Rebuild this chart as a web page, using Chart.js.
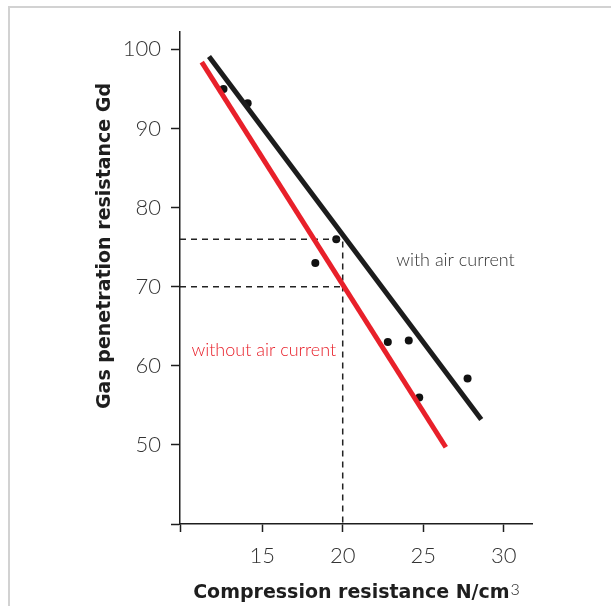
<!DOCTYPE html>
<html>
<head>
<meta charset="utf-8">
<script src="https://cdn.jsdelivr.net/npm/chart.js@4.4.1/dist/chart.umd.min.js"></script>
<style>
  html, body { margin: 0; background: #fff; overflow: hidden; width: 611px; height: 606px; }
  #frame { position: absolute; left: 8px; top: 6px; width: 640px; height: 640px;
           border-top: 2px solid #d2d2d2; border-left: 2px solid #d2d2d2; }
  #wrap { position: absolute; left: 0; top: 0; }
</style>
</head>
<body>
<div id="frame"></div>
<div id="wrap"><canvas id="chart" width="611" height="606"></canvas></div>
<script>
// measured points
const pointX = [12.6, 14.1, 18.3, 19.6, 22.8, 24.1, 24.75, 27.75];
const pointY = [95, 93.2, 73, 76, 63, 63.2, 56, 58.4];

// fitted lines (end points)
const withAirX = [11.7, 28.6];
const withAirY = [99.1, 53.2];
const withoutAirX = [11.25, 26.4];
const withoutAirY = [98.4, 49.7];

// dashed reading guides
const guide76X = [9.9, 20, 20];
const guide76Y = [76, 76, 40];
const guide70X = [9.9, 20];
const guide70Y = [70, 70];

const xTicks = [9.9, 15, 20, 25, 30];
const yTicks = [40, 50, 60, 70, 80, 90, 100];

const zip = (xs, ys) => xs.map((x, i) => ({ x: x, y: ys[i] }));

// labels drawn on the chart (data coords)
const textLabels = [
  { text: 'with air current', x: 27, y: 73.3, color: '#333' },
  { text: 'without air current', x: 15.1, y: 62, color: '#e8202a' }
];

const titlePlugin = {
  id: 'titles',
  afterDraw(chart) {
    const ctx = chart.ctx;
    const { x, y } = chart.scales;
    const area = chart.chartArea;
    ctx.save();
    // annotations
    ctx.font = '300 18px Lato';
    ctx.textAlign = 'center';
    ctx.textBaseline = 'middle';
    textLabels.forEach(l => {
      ctx.fillStyle = l.color;
      ctx.fillText(l.text, x.getPixelForValue(l.x), y.getPixelForValue(l.y));
    });
    // x title with superscript
    ctx.fillStyle = '#1e1e1e';
    ctx.textBaseline = 'alphabetic';
    ctx.textAlign = 'left';
    const main = 'Compression resistance N/cm';
    ctx.font = 'bold 19px "DejaVu Sans"';
    const w1 = ctx.measureText(main).width;
    ctx.font = '300 16px Lato';
    const w2 = ctx.measureText('3').width;
    const startX = (area.left + area.right) / 2 - (w1 + w2) / 2;
    ctx.font = 'bold 19px "DejaVu Sans"';
    ctx.fillText(main, startX, 598);
    ctx.font = '300 16px Lato';
    ctx.fillText('3', startX + w1 + 1, 595);
    // y title
    ctx.translate(105, 246);
    ctx.rotate(-Math.PI / 2);
    ctx.textAlign = 'center';
    ctx.textBaseline = 'middle';
    ctx.font = 'bold 19px "DejaVu Sans"';
    ctx.fillText('Gas penetration resistance Gd', 0, 0);
    ctx.restore();
  }
};

const axisColor = '#1e1e1e';

new Chart(document.getElementById('chart'), {
  type: 'scatter',
  data: {
    datasets: [
      {
        data: zip(withAirX, withAirY),
        showLine: true, borderColor: '#1c1c1c', borderWidth: 5,
        pointRadius: 0, borderCapStyle: 'butt'
      },
      {
        data: zip(withoutAirX, withoutAirY),
        showLine: true, borderColor: '#e8202a', borderWidth: 5,
        pointRadius: 0, borderCapStyle: 'butt'
      },
      {
        data: zip(guide76X, guide76Y),
        showLine: true, borderColor: '#222', borderWidth: 1.5,
        borderDash: [6, 5], pointRadius: 0
      },
      {
        data: zip(guide70X, guide70Y),
        showLine: true, borderColor: '#222', borderWidth: 1.5,
        borderDash: [6, 5], pointRadius: 0
      },
      {
        data: zip(pointX, pointY),
        pointRadius: 4, pointBackgroundColor: '#111', pointBorderWidth: 0
      }
    ]
  },
  options: {
    responsive: false,
    animation: false,
    events: [],
    layout: { padding: { top: 32, right: 79, left: 0, bottom: 0 } },
    plugins: { legend: { display: false }, tooltip: { enabled: false } },
    scales: {
      x: {
        type: 'linear', min: 9.9, max: 31.75,
        afterBuildTicks: s => { s.ticks = xTicks.map(v => ({ value: v })); },
        afterFit: s => { s.height = 82; },
        grid: { drawOnChartArea: false, tickLength: 8, color: axisColor, tickWidth: 1.5 },
        border: { color: axisColor, width: 1.5 },
        ticks: {
          padding: 11, color: '#333', font: { family: 'Lato', size: 22, weight: '300' },
          callback: v => (v < 10 ? '' : v)
        }
      },
      y: {
        type: 'linear', min: 40, max: 102.2,
        afterBuildTicks: s => { s.ticks = yTicks.map(v => ({ value: v })); },
        afterFit: s => { s.width = 180; },
        grid: { drawOnChartArea: false, tickLength: 9, color: axisColor, tickWidth: 1.5 },
        border: { color: axisColor, width: 1.5 },
        ticks: {
          padding: 10, color: '#333', font: { family: 'Lato', size: 22, weight: '300' },
          callback: v => (v === 40 ? '' : v)
        }
      }
    }
  },
  plugins: [titlePlugin]
});
</script>
</body>
</html>
